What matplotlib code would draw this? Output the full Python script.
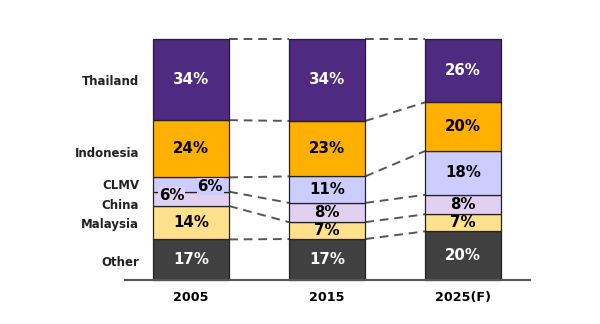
import matplotlib
matplotlib.use("Agg")
import matplotlib.pyplot as plt
import numpy as np

years = ["2005", "2015", "2025(F)"]
segments = ["Other", "Malaysia", "China", "CLMV", "Indonesia", "Thailand"]
other = [17, 17, 20]
malaysia = [14, 7, 7]
china = [6, 8, 8]
clmv = [6, 11, 18]
indonesia = [24, 23, 20]
thailand = [34, 34, 26]

colors = ["#404040", "#FFE08C", "#E2D0F0", "#CCCCFF", "#FFB000", "#4E2A80"]
text_colors = ["white", "black", "black", "black", "black", "white"]

values = np.array([other, malaysia, china, clmv, indonesia, thailand], dtype=float)
# 100% stacked columns
shares = values / values.sum(axis=0) * 100
bottoms = np.vstack([np.zeros(3), np.cumsum(shares, axis=0)[:-1]])

fig = plt.figure(figsize=(6.0, 3.24), dpi=100)
ax = fig.add_axes([125 / 600, 44 / 324, 405 / 600, 241 / 324])

x = np.arange(len(years))
width = 0.56
font = "DejaVu Sans"

for i, name in enumerate(segments):
    ax.bar(x, shares[i], width, bottom=bottoms[i], color=colors[i],
           edgecolor="#222222", linewidth=0.9, zorder=2, clip_on=False)

# value labels; the two thin 2005 slices are staggered sideways
label_dx = {(3, 0): 0.14, (2, 0): -0.14}
label_dy = {(3, 0): -0.8, (2, 0): 1.5}
for i in range(len(segments)):
    for j in range(len(years)):
        cx = x[j] + label_dx.get((i, j), 0)
        cy = bottoms[i, j] + shares[i, j] / 2 + label_dy.get((i, j), 0)
        ax.text(cx, cy, f"{int(values[i, j])}%", ha="center", va="center",
                fontsize=10.8, fontweight="bold", color=text_colors[i],
                family=font, zorder=4,
                bbox=dict(boxstyle="square,pad=0.05", fc=colors[i], ec="none")
                if (i, j) in label_dx else None)

# dashed connectors between matching boundaries of neighbouring columns
levels = np.cumsum(shares, axis=0)
for k in range(len(segments)):
    for j in range(len(years) - 1):
        ax.plot([x[j] + width / 2, x[j + 1] - width / 2],
                [levels[k, j], levels[k, j + 1]],
                ls=(0, (4.5, 3)), color="#555555", lw=1.4, zorder=1,
                clip_on=False)

# segment names beside the first column
name_dy = {"Other": -1.2, "Malaysia": -0.6, "China": -2.6, "CLMV": -0.3,
           "Indonesia": -1.8, "Thailand": -1.0}
for i, name in enumerate(segments):
    cy = bottoms[i, 0] + shares[i, 0] / 2 + name_dy[name]
    ax.text(-0.38, cy, name, ha="right", va="center", fontsize=8.5,
            fontweight="bold", color="#222222", family=font)

ax.set_xlim(-0.485, 2.49)
ax.set_ylim(0, 100)
ax.set_xticks(x)
ax.set_xticklabels(years, fontsize=9.2, fontweight="bold", family=font)
ax.tick_params(axis="x", length=0, pad=8)
ax.set_yticks([])
for side in ["left", "right", "top"]:
    ax.spines[side].set_visible(False)
ax.spines["bottom"].set_color("#555555")
ax.spines["bottom"].set_linewidth(1.5)

fig.savefig("out.png", dpi=100)
